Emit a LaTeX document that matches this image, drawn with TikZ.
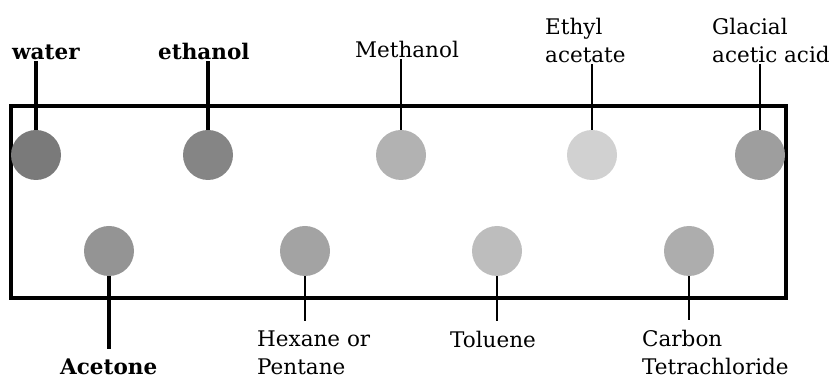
\documentclass[tikz,border=0pt]{standalone}
\usepackage{fontspec}
\setmainfont{DejaVu Serif}
\usetikzlibrary{calc}
\begin{document}
\begin{tikzpicture}[x=1pt,y=-1pt,
  spot/.style={circle, inner sep=0pt, minimum size=50pt},
  lbl/.style={font=\fontsize{21.5}{28}\selectfont, inner sep=0pt, align=left, anchor=base west},
  bl/.style={font=\fontsize{21.5}{28}\selectfont\bfseries, inner sep=0pt, align=left, anchor=base west},
  stem/.style={line width=2.6pt},
  bstem/.style={line width=3.6pt},
  lstem/.style={line width=2pt},
  plate/.style={line width=3.4pt}
  ]
\useasboundingbox (0,0) rectangle (831,379);
% plate
\draw[plate] (11,106) rectangle (786,298);
% top row spots
\node[spot, fill=black!52] (water) at (36,155) {};
\node[spot, fill=black!48] (ethanol) at (208,155) {};
\node[spot, fill=black!30] (methanol) at (401,155) {};
\node[spot, fill=black!18] (ethyl) at (592,155) {};
\node[spot, fill=black!38] (glacial) at (760,155) {};
% bottom row spots
\node[spot, fill=black!42] (acetone) at (109,251) {};
\node[spot, fill=black!36] (hexane) at (305,251) {};
\node[spot, fill=black!26] (toluene) at (497,251) {};
\node[spot, fill=black!32] (carbon) at (689,251) {};
% top labels
\node[bl] (lwater) at (12,60) {water};
\node[bl] (lethanol) at (158,60) {ethanol};
\node[lbl] (lmethanol) at (355,58) {Methanol};
\node[lbl] (lethyl) at (545,63) {Ethyl\\acetate};
\node[lbl] (lglacial) at (712,63) {Glacial\\acetic acid};
% bottom labels
\node[bl] (lacetone) at (60,375) {Acetone};
\node[lbl] (lhexane) at (257,375) {Hexane or\\Pentane};
\node[lbl] (ltoluene) at (450,348) {Toluene};
\node[lbl] (lcarbon) at (642,375) {Carbon\\Tetrachloride};
% top stems
\draw[bstem] (water.north) -- (water.north |- lwater.south);
\draw[bstem] (ethanol.north) -- (ethanol.north |- lethanol.south);
\draw[stem] (methanol.north) -- (methanol.north |- lmethanol.south);
\draw[lstem] (ethyl.north) -- (ethyl.north |- lethyl.south);
\draw[stem] (glacial.north) -- (glacial.north |- lglacial.south);
% bottom stems
\draw[bstem] (acetone.south) -- ($(acetone.south |- lacetone.north)+(0,-10)$);
\draw[stem] (hexane.south) -- ($(hexane.south |- lhexane.north)+(0,-10)$);
\draw[stem] (toluene.south) -- ($(toluene.south |- ltoluene.north)+(0,-10)$);
\draw[stem] (carbon.south) -- ($(carbon.south |- lcarbon.north)+(0,-10)$);
\end{tikzpicture}
\end{document}
